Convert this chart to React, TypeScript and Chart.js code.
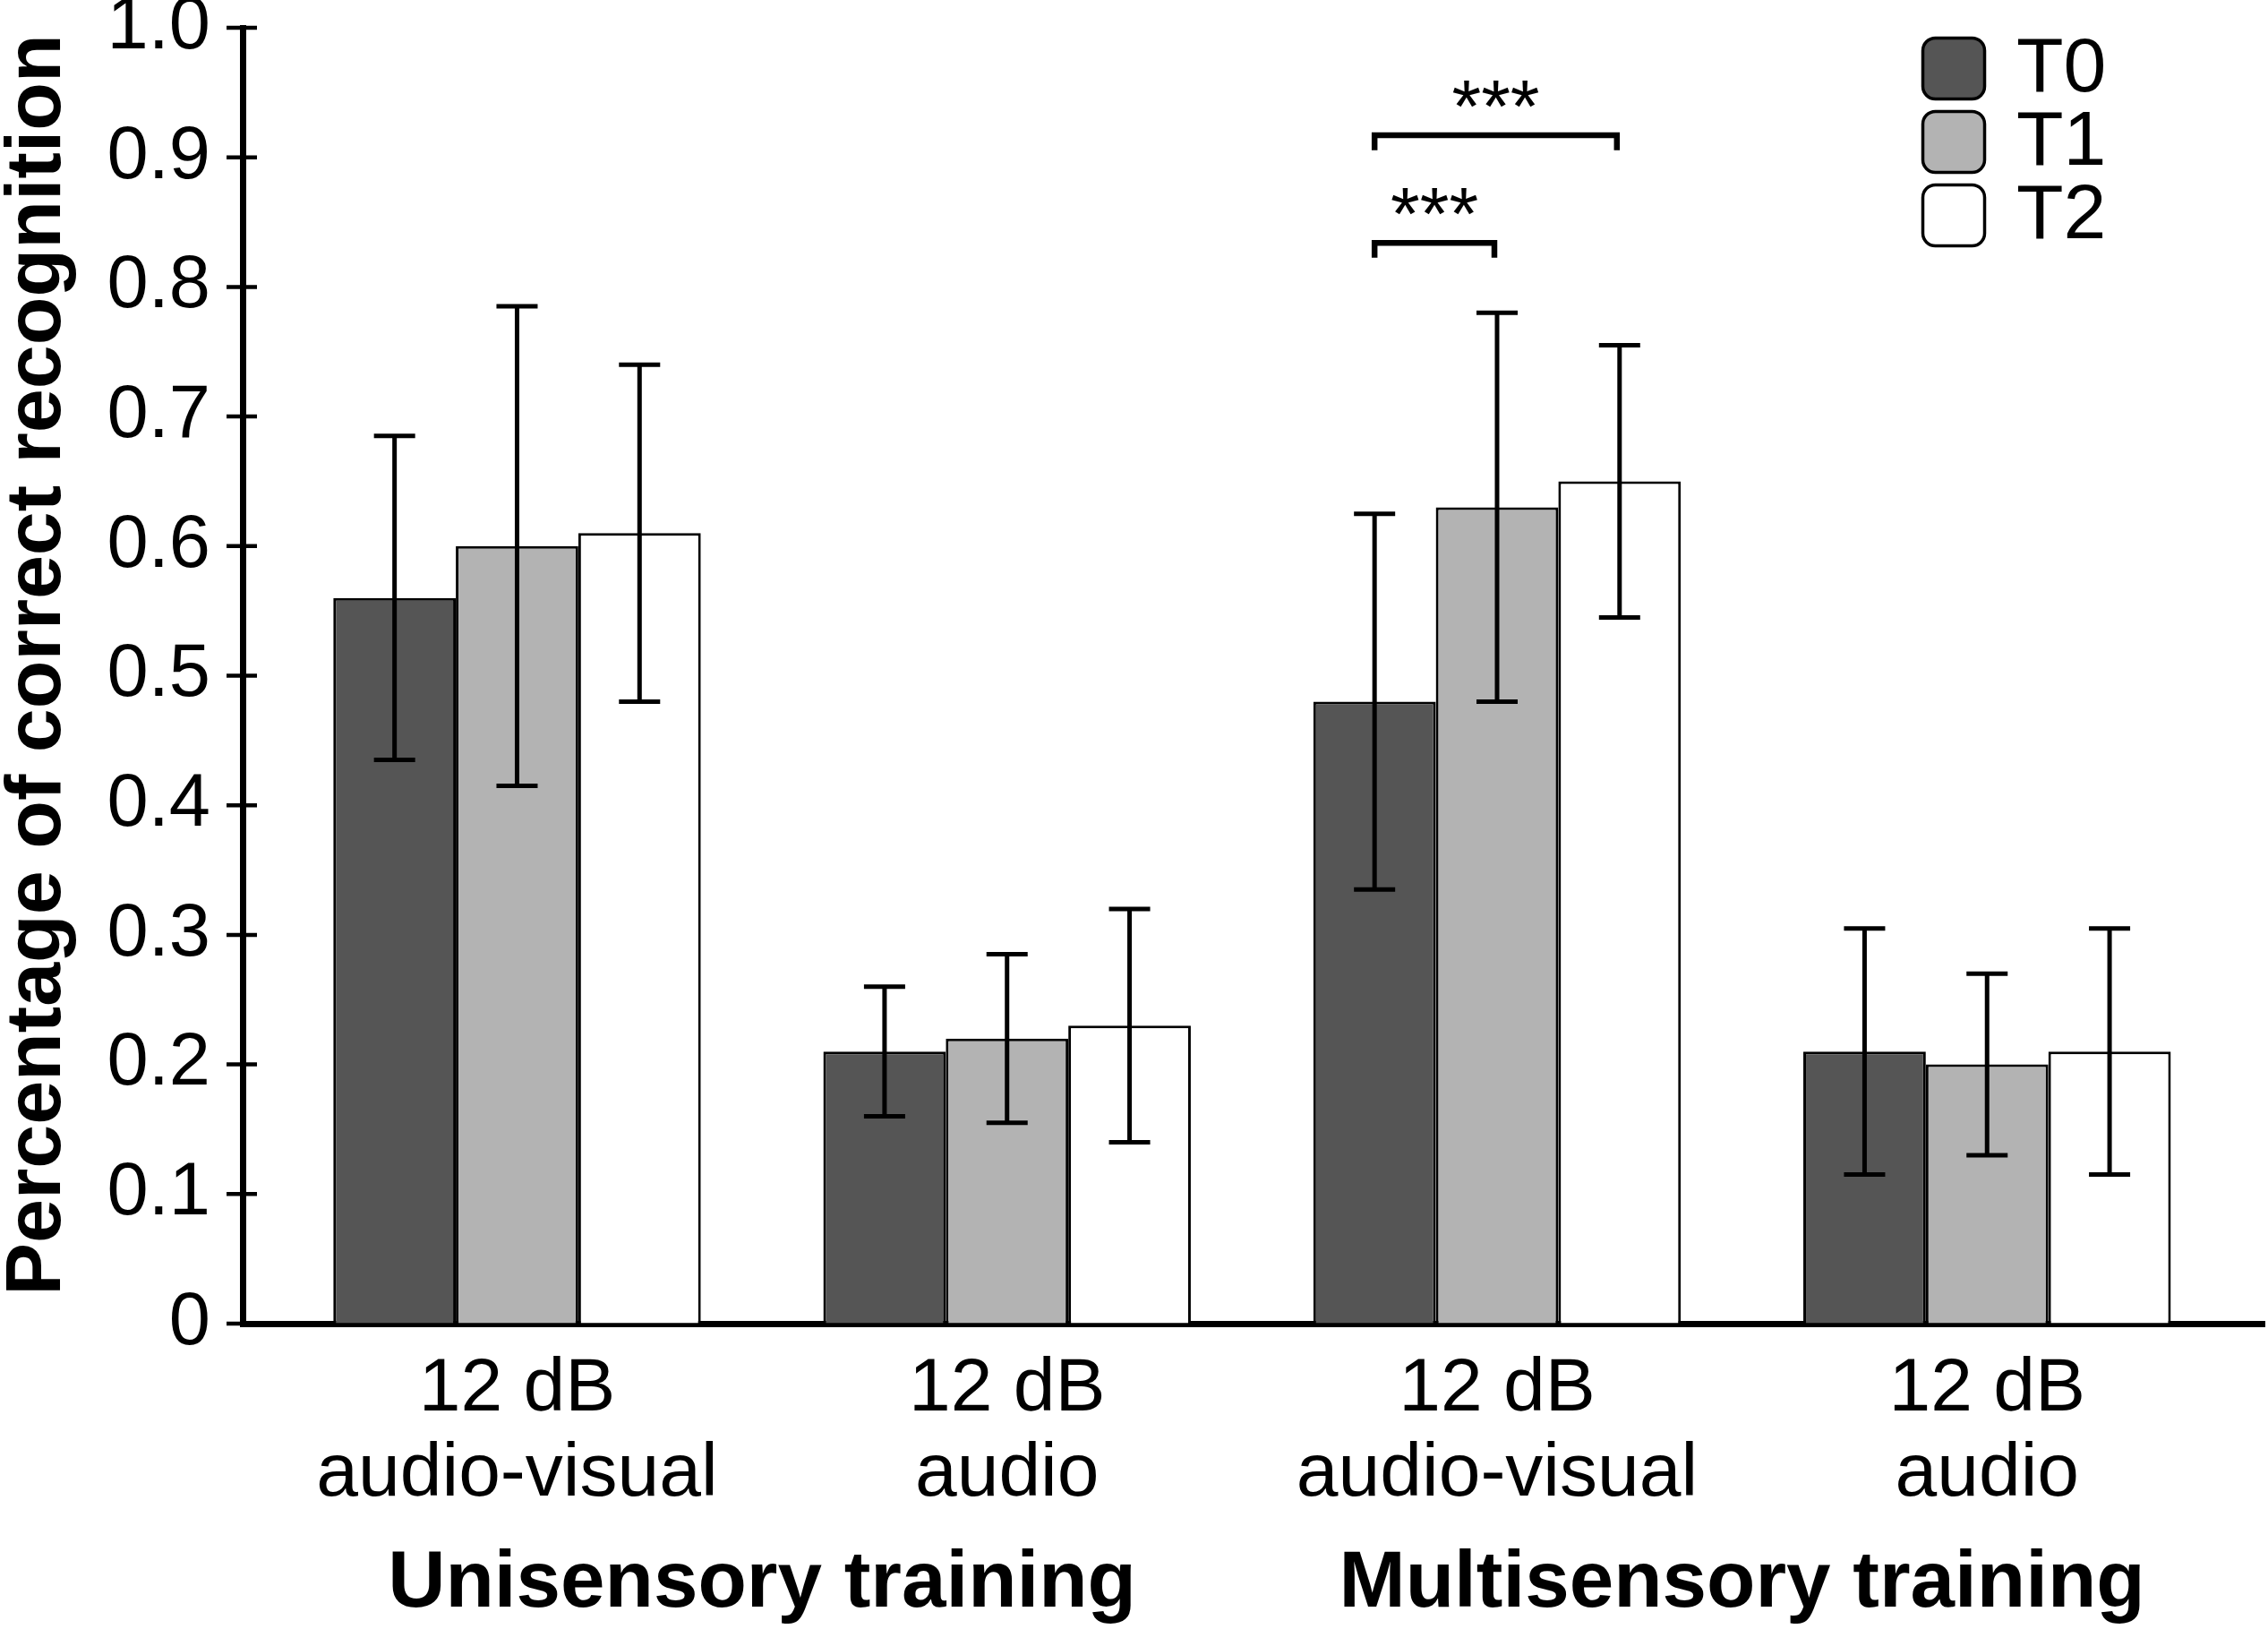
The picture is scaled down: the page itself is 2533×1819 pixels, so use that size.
import React, { useEffect, useRef } from 'react';
import { Chart, registerables } from 'chart.js';

Chart.register(...registerables);

// categories (x axis, two-line labels) and the group titles under them
const categories = [
  ['12 dB', 'audio-visual'],
  ['12 dB', 'audio'],
  ['12 dB', 'audio-visual'],
  ['12 dB', 'audio'],
];
const groupTitles = ['Unisensory training', 'Multisensory training'];
const yTitle = 'Percentage of correct recognition';

const seriesNames = ['T0', 'T1', 'T2'];
const seriesColors = ['#555555', '#b3b3b3', '#ffffff'];

// mean values and error bar ends
const t0Mean = [0.56, 0.21, 0.48, 0.21];
const t0Low = [0.435, 0.16, 0.335, 0.115];
const t0High = [0.685, 0.26, 0.625, 0.305];

const t1Mean = [0.6, 0.22, 0.63, 0.2];
const t1Low = [0.415, 0.155, 0.48, 0.13];
const t1High = [0.785, 0.285, 0.78, 0.27];

const t2Mean = [0.61, 0.23, 0.65, 0.21];
const t2Low = [0.48, 0.14, 0.545, 0.115];
const t2High = [0.74, 0.32, 0.755, 0.305];

const yTickValues = [0, 0.1, 0.2, 0.3, 0.4, 0.5, 0.6, 0.7, 0.8, 0.9, 1.0];

// significance brackets (group index, from series, to series, levels)
const sigGroup = [2, 2];
const sigFrom = [0, 0];
const sigTo = [2, 1];
const sigBarY = [0.917, 0.834];
const sigLegY = [0.9055, 0.8225];
const sigStarY = [0.9525, 0.8695];
const sigText = ['***', '***'];

const means = [t0Mean, t1Mean, t2Mean];
const lows = [t0Low, t1Low, t2Low];
const highs = [t0High, t1High, t2High];

const FONT = '"Liberation Sans", Arial, Helvetica, sans-serif';

const extras = {
  id: 'extras',
  afterDatasetsDraw(chart: any) {
    const ctx = chart.ctx;
    const y = chart.scales.y;
    ctx.save();
    ctx.strokeStyle = '#000';
    ctx.lineWidth = 5;
    lows.forEach((low, s) => {
      const meta = chart.getDatasetMeta(s);
      meta.data.forEach((bar: any, i: number) => {
        const x = bar.x;
        const yl = y.getPixelForValue(low[i]);
        const yh = y.getPixelForValue(highs[s][i]);
        ctx.beginPath();
        ctx.moveTo(x, yl);
        ctx.lineTo(x, yh);
        ctx.moveTo(x - 23, yl);
        ctx.lineTo(x + 23, yl);
        ctx.moveTo(x - 23, yh);
        ctx.lineTo(x + 23, yh);
        ctx.stroke();
      });
    });
    ctx.restore();
  },
  afterDraw(chart: any) {
    const ctx = chart.ctx;
    const x = chart.scales.x;
    const y = chart.scales.y;
    const area = chart.chartArea;
    ctx.save();

    // y ticks crossing the axis
    ctx.strokeStyle = '#000';
    ctx.lineWidth = 4.5;
    y.ticks.forEach((t: any) => {
      const py = y.getPixelForValue(t.value);
      ctx.beginPath();
      ctx.moveTo(area.left - 18, py);
      ctx.lineTo(area.left + 16, py);
      ctx.stroke();
    });

    // y axis title
    ctx.save();
    ctx.translate(67, (area.top + area.bottom) / 2 - 12);
    ctx.rotate(-Math.PI / 2);
    ctx.font = `bold 88px ${FONT}`;
    ctx.fillStyle = '#000';
    ctx.textAlign = 'center';
    ctx.textBaseline = 'alphabetic';
    ctx.fillText(yTitle, 0, 0);
    ctx.restore();

    // significance brackets
    ctx.lineWidth = 6.5;
    ctx.lineJoin = 'miter';
    sigGroup.forEach((g, k) => {
      const x1 = chart.getDatasetMeta(sigFrom[k]).data[g].x;
      const x2 = chart.getDatasetMeta(sigTo[k]).data[g].x - 3;
      const yb = y.getPixelForValue(sigBarY[k]);
      const yl = y.getPixelForValue(sigLegY[k]);
      ctx.beginPath();
      ctx.moveTo(x1, yl);
      ctx.lineTo(x1, yb);
      ctx.lineTo(x2, yb);
      ctx.lineTo(x2, yl);
      ctx.stroke();
      const fs = 84;
      ctx.font = `${fs}px ${FONT}`;
      ctx.fillStyle = '#000';
      ctx.textAlign = 'center';
      ctx.textBaseline = 'alphabetic';
      ctx.fillText(sigText[k], (x1 + x2) / 2, y.getPixelForValue(sigStarY[k]) + 0.57 * fs);
    });

    // legend
    const lx = area.right - 383;
    const ly = area.top + 10;
    seriesNames.forEach((name, s) => {
      const top = ly + s * 82;
      ctx.beginPath();
      ctx.roundRect(lx + 1.5, top + 1.5, 69, 68, 14);
      ctx.fillStyle = seriesColors[s];
      ctx.fill();
      ctx.lineWidth = 3.5;
      ctx.strokeStyle = '#000';
      ctx.stroke();
      ctx.fillStyle = '#000';
      ctx.font = `86px ${FONT}`;
      ctx.textAlign = 'left';
      ctx.textBaseline = 'middle';
      ctx.fillText(name, lx + 106, top + 37);
    });

    // group titles
    ctx.font = `bold 89px ${FONT}`;
    ctx.textAlign = 'center';
    ctx.textBaseline = 'middle';
    ctx.fillStyle = '#000';
    groupTitles.forEach((title, g) => {
      const cx = (x.getPixelForValue(g * 2) + x.getPixelForValue(g * 2 + 1)) / 2;
      ctx.fillText(title, cx, chart.height - 50);
    });

    ctx.restore();
  },
};

const App: React.FC = () => {
  const chartRef = useRef<HTMLCanvasElement>(null);
  const chartInstance = useRef<Chart | null>(null);

  useEffect(() => {
    document.body.style.margin = '0';
    if (!chartRef.current) return;
    if (chartInstance.current) chartInstance.current.destroy();
    const ctx = chartRef.current.getContext('2d');
    if (!ctx) return;

    chartInstance.current = new Chart(ctx, {
      type: 'bar',
      data: {
        datasets: seriesNames.map((name, s) => ({
          label: name,
          data: means[s].map((v, i) => ({ x: i, y: v })),
          backgroundColor: seriesColors[s],
          borderColor: '#000',
          borderWidth: 3,
          categoryPercentage: 0.75,
          barPercentage: 1.0,
        })),
      },
      options: {
        responsive: false,
        animation: false,
        layout: { padding: { left: 0, right: 4, top: 31, bottom: 0 } },
        plugins: {
          legend: { display: false },
          tooltip: { enabled: false },
        },
        scales: {
          x: {
            type: 'linear',
            min: -0.56,
            max: 3.566,
            bounds: 'data',
            offset: false,
            z: 1,
            afterBuildTicks: (scale: any) => {
              scale.ticks = categories.map((_, i) => ({ value: i }));
            },
            afterFit: (scale: any) => {
              scale.height = 341;
            },
            grid: { display: false, drawTicks: false },
            border: { display: true, color: '#000', width: 7 },
            ticks: {
              autoSkip: false,
              maxRotation: 0,
              minRotation: 0,
              padding: 26,
              color: '#000',
              font: { family: FONT, size: 84, lineHeight: 1.13 },
              callback: (value: any) => categories[Math.round(Number(value))] as any,
            },
          },
          y: {
            min: 0,
            max: 1,
            z: 1,
            afterBuildTicks: (scale: any) => {
              scale.ticks = yTickValues.map((v) => ({ value: v }));
            },
            afterFit: (scale: any) => {
              scale.width = 271;
            },
            grid: {
              display: true,
              drawOnChartArea: false,
              drawTicks: true,
              tickLength: 36,
              color: 'rgba(0,0,0,0)',
            },
            border: { display: true, color: '#000', width: 7 },
            ticks: {
              padding: 0,
              color: '#000',
              font: { family: FONT, size: 83, lineHeight: 0.7 },
              callback: (value: any) => (Number(value) === 0 ? '0' : Number(value).toFixed(1)),
            },
            title: { display: false },
          },
        },
      },
      plugins: [extras],
    });

    return () => {
      if (chartInstance.current) {
        chartInstance.current.destroy();
        chartInstance.current = null;
      }
    };
  }, []);

  return (
    <div style={{ width: 2533, height: 1819, background: '#fff' }}>
      <canvas ref={chartRef} width={2533} height={1819} style={{ display: 'block' }}></canvas>
    </div>
  );
};

export default App;
